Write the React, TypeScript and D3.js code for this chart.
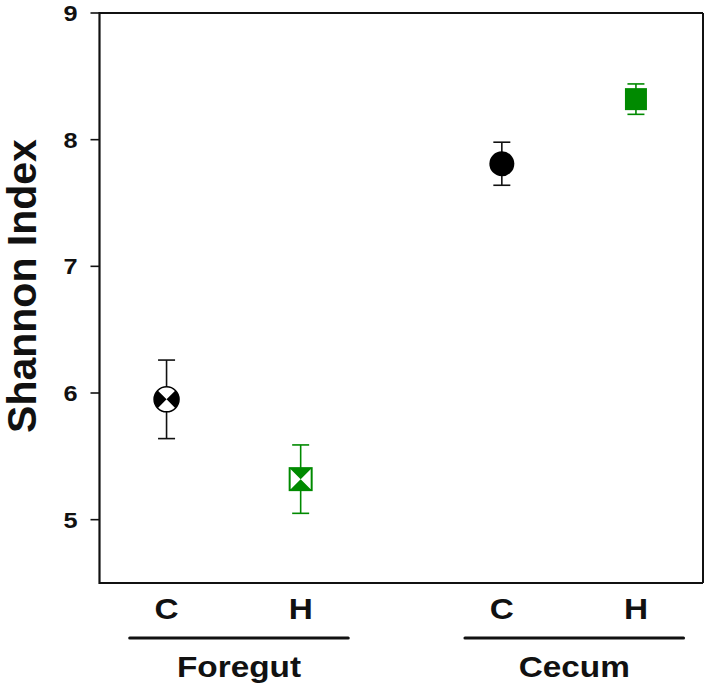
import React from "react";
import * as d3 from "d3";

const groups = ["Foregut", "Cecum"];
const treatments = ["C", "H"];
const means = [5.95, 5.32, 7.81, 8.32];
const errors = [0.31, 0.27, 0.17, 0.12];
const yTicks = [5, 6, 7, 8, 9];

const W = 709;
const H = 695;
const GREEN = "#008a00";
const FONT = "Liberation Sans, Arial, Helvetica, sans-serif";

export default function App() {
  const left = 99.5, right = 703, top = 13, bottom = 583;
  const slot = (g: number, t: number) => 1 + g * 2.5 + t;
  const x = d3.scaleLinear().domain([0.5, 5.0]).range([left, right]);
  const y = d3.scaleLinear().domain([4.5, 9]).range([bottom, top]);

  const points = means.map((m, i) => {
    const g = Math.floor(i / 2);
    const t = i % 2;
    return { g, t, m, e: errors[i], cx: x(slot(g, t)), cy: y(m) };
  });

  const cap = 8.5;
  const r = 12.5;
  const sq = 11;

  const marker = (p: any) => {
    const { cx, cy, g, t } = p;
    if (g === 1 && t === 0) {
      return <circle cx={cx} cy={cy} r={r} fill="#000" />;
    }
    if (g === 1 && t === 1) {
      return <rect x={cx - sq} y={cy - sq} width={2 * sq} height={2 * sq} fill={GREEN} />;
    }
    if (g === 0 && t === 0) {
      const d = r * Math.SQRT1_2;
      return (
        <g>
          <circle cx={cx} cy={cy} r={r} fill="#fff" stroke="#000" strokeWidth={1.5} />
          <path
            d={`M${cx},${cy} L${cx - d},${cy - d} A${r},${r} 0 0 0 ${cx - d},${cy + d} Z M${cx},${cy} L${cx + d},${cy - d} A${r},${r} 0 0 1 ${cx + d},${cy + d} Z`}
            fill="#000"
          />
        </g>
      );
    }
    const s = sq;
    return (
      <g>
        <rect x={cx - s} y={cy - s} width={2 * s} height={2 * s} fill="#fff" stroke={GREEN} strokeWidth={2} />
        <path
          d={`M${cx},${cy} L${cx - s},${cy - s} L${cx + s},${cy - s} Z M${cx},${cy} L${cx - s},${cy + s} L${cx + s},${cy + s} Z`}
          fill={GREEN}
        />
      </g>
    );
  };

  return (
    <svg width={W} height={H} style={{ position: "absolute", left: 0, top: 0, background: "#fff" }}>
      <rect x={0} y={0} width={W} height={H} fill="#fff" />
      {/* frame */}
      <line x1={left} x2={right} y1={top} y2={top} stroke="#111" strokeWidth={2} />
      <line x1={right} x2={right} y1={top} y2={bottom} stroke="#111" strokeWidth={2} />
      <line x1={left} x2={right} y1={bottom} y2={bottom} stroke="#111" strokeWidth={2} />
      <line x1={left} x2={left} y1={top - 1} y2={bottom + 1} stroke="#111" strokeWidth={2.2} />
      {/* y ticks */}
      {yTicks.map((v) => (
        <g key={v}>
          <line x1={left - 9} x2={left} y1={y(v)} y2={y(v)} stroke="#111" strokeWidth={1.6} />
          <g transform={`translate(${left - 22},${y(v) + 8}) scale(1.15,1)`}>
            <text
              x={0}
              y={0}
              textAnchor="end"
              style={{ textAnchor: "end" }}
              fontFamily={FONT}
              fontWeight="bold"
              fontSize={22}
              fill="#111"
            >
              {v}
            </text>
          </g>
        </g>
      ))}
      {/* y label */}
      <text
        transform={`translate(36,${(top + bottom) / 2 - 12}) rotate(-90)`}
        textAnchor="middle"
        fontFamily={FONT}
        fontWeight="bold"
        fontSize={41}
        fill="#111"
      >
        Shannon Index
      </text>
      {/* error bars and markers */}
      {points.map((p, i) => {
        const col = p.t === 0 ? "#111" : GREEN;
        return (
          <g key={i}>
            <line x1={p.cx} x2={p.cx} y1={y(p.m - p.e)} y2={y(p.m + p.e)} stroke={col} strokeWidth={1.6} />
            <line x1={p.cx - cap} x2={p.cx + cap} y1={y(p.m + p.e)} y2={y(p.m + p.e)} stroke={col} strokeWidth={1.6} />
            <line x1={p.cx - cap} x2={p.cx + cap} y1={y(p.m - p.e)} y2={y(p.m - p.e)} stroke={col} strokeWidth={1.6} />
            {marker(p)}
          </g>
        );
      })}
      {/* category labels */}
      {points.map((p, i) => (
        <g key={"t" + i} transform={`translate(${p.cx},619) scale(1.15,1)`}>
          <text
            x={0}
            y={0}
            textAnchor="middle"
            fontFamily={FONT}
            fontWeight="bold"
            fontSize={29}
            fill="#111"
          >
            {treatments[p.t]}
          </text>
        </g>
      ))}
      {groups.map((gname, g) => {
        const c = (slot(g, 0) + slot(g, 1)) / 2 + 0.04;
        return (
          <g key={gname}>
            <line x1={x(c - 0.815)} x2={x(c + 0.815)} y1={638} y2={638} stroke="#111" strokeWidth={3} strokeLinecap="round" />
            <g transform={`translate(${x(c)},677) scale(1.15,1)`}>
              <text
                x={0}
                y={0}
                textAnchor="middle"
                fontFamily={FONT}
                fontWeight="bold"
                fontSize={29}
                fill="#111"
              >
                {gname}
              </text>
            </g>
          </g>
        );
      })}
    </svg>
  );
}
